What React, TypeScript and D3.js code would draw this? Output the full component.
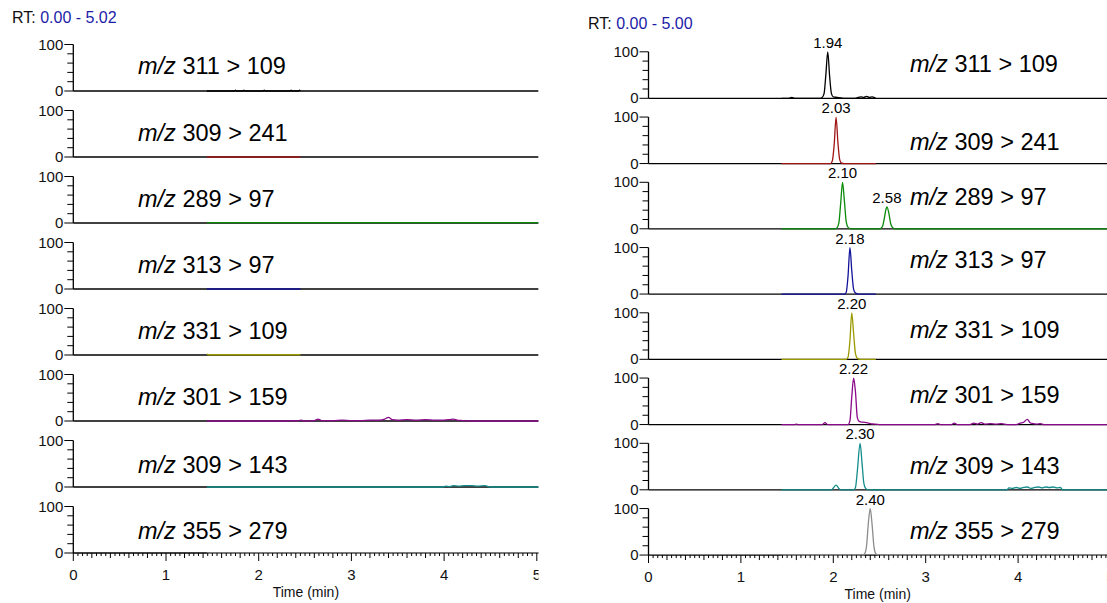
import React from "react";
import * as d3 from "d3";

type Pt = [number, number];

// ---------- DATA ----------
const transitions = ["311 > 109", "309 > 241", "289 > 97", "313 > 97", "331 > 109", "301 > 159", "309 > 143", "355 > 279"];
const traceColors = ["#000000", "#a01414", "#0a8a0a", "#12129a", "#9a9a00", "#8a0a8a", "#138c8c", "#8c8c8c"];
const xTickValues = [0, 1, 2, 3, 4, 5];
const leftRange = "0.00 - 5.02";
const rightRange = "0.00 - 5.00";

// Left panel traces (time, relative abundance)
const left311_109: Pt[] = [[1.44, 0], [1.74, 0], [1.75, 2], [1.76, 0], [1.83, 0], [1.84, 2], [1.85, 0], [2.05, 0], [2.06, 2], [2.07, 0], [2.34, 0], [2.35, 2], [2.36, 0], [2.43, 0], [2.44, 2], [2.45, 0]];
const left309_241: Pt[] = [[1.44, 0], [2.45, 0]];
const left289_97: Pt[] = [[1.44, 1], [5.02, 1]];
const left313_97: Pt[] = [[1.44, 0], [2.45, 0]];
const left331_109: Pt[] = [[1.44, 2], [1.46, 0.5], [2.45, 0.5]];
const left301_159: Pt[] = [[1.44, 0], [2.3, 0], [2.34, 1], [2.4, 0], [2.46, 2], [2.5, 0], [2.6, 1], [2.64, 4], [2.68, 1], [2.8, 1], [2.9, 2], [3.0, 1], [3.1, 1], [3.2, 2], [3.3, 2], [3.36, 4], [3.4, 8], [3.44, 3], [3.5, 2], [3.6, 3], [3.7, 2], [3.8, 3], [3.9, 2], [4.0, 2], [4.06, 3], [4.1, 4], [4.14, 2], [4.2, 1], [4.28, 0], [5.02, 0]];
const left309_143: Pt[] = [[1.44, 0], [3.98, 0], [4.02, 2], [4.06, 1], [4.1, 3], [4.16, 2], [4.22, 3], [4.3, 3], [4.36, 2], [4.44, 3], [4.5, 0], [5.02, 0]];
const left355_279: Pt[] = [[1.44, 0], [5.02, 0]];

// Right panel traces
const right311_109: Pt[] = [[1.44, 0], [1.52, 0], [1.55, 2], [1.58, 0], [1.86, 0], [1.88, 2], [1.9, 10], [1.92, 52], [1.94, 100], [1.96, 48], [1.98, 10], [2.0, 3], [2.04, 2], [2.08, 1], [2.12, 0], [2.24, 0], [2.27, 2], [2.3, 3], [2.33, 2], [2.36, 4], [2.39, 2], [2.42, 3], [2.45, 1], [2.46, 0]];
const right309_241: Pt[] = [[1.44, 0], [1.97, 0], [1.99, 6], [2.01, 42], [2.03, 100], [2.05, 45], [2.07, 8], [2.09, 1], [2.12, 0], [2.46, 0]];
const right289_97: Pt[] = [[1.44, 0], [2.02, 0], [2.04, 2], [2.06, 12], [2.08, 55], [2.1, 100], [2.12, 60], [2.14, 15], [2.16, 3], [2.19, 0], [2.5, 0], [2.53, 4], [2.55, 20], [2.57, 42], [2.58, 47], [2.6, 35], [2.62, 12], [2.64, 3], [2.67, 0], [5.02, 0]];
const right313_97: Pt[] = [[1.44, 0], [2.12, 0], [2.14, 4], [2.16, 40], [2.18, 100], [2.2, 50], [2.22, 10], [2.24, 2], [2.27, 0], [2.46, 0]];
const right331_109: Pt[] = [[1.44, 0], [2.14, 0], [2.16, 5], [2.18, 40], [2.2, 100], [2.22, 55], [2.24, 12], [2.26, 2], [2.29, 0], [2.46, 0]];
const right301_159: Pt[] = [[1.44, 0], [1.58, 0], [1.6, 1], [1.62, 0], [1.88, 0], [1.91, 4], [1.94, 0], [2.16, 0], [2.18, 8], [2.2, 60], [2.22, 100], [2.24, 70], [2.26, 15], [2.28, 7], [2.32, 5], [2.36, 4], [2.4, 2], [2.44, 1], [2.5, 0], [3.1, 0], [3.13, 2], [3.16, 0], [3.28, 0], [3.31, 3], [3.34, 0], [3.48, 0], [3.52, 3], [3.56, 1], [3.6, 4], [3.64, 1], [3.7, 2], [3.76, 1], [3.82, 2], [3.88, 0], [3.98, 0], [4.02, 3], [4.06, 5], [4.1, 11], [4.13, 4], [4.16, 2], [4.2, 1], [4.24, 2], [4.28, 0], [5.02, 0]];
const right309_143: Pt[] = [[1.44, 0], [1.98, 0], [2.0, 4], [2.03, 10], [2.06, 3], [2.08, 0], [2.22, 0], [2.24, 5], [2.26, 40], [2.29, 100], [2.31, 60], [2.33, 15], [2.35, 3], [2.38, 0], [3.88, 0], [3.9, 4], [3.94, 3], [3.98, 5], [4.02, 3], [4.06, 5], [4.1, 6], [4.14, 3], [4.18, 5], [4.22, 6], [4.26, 4], [4.3, 6], [4.34, 5], [4.38, 6], [4.42, 4], [4.46, 5], [4.48, 0], [5.02, 0]];
const right355_279: Pt[] = [[1.44, 0], [2.32, 0], [2.34, 3], [2.36, 20], [2.38, 70], [2.4, 100], [2.42, 65], [2.44, 18], [2.46, 3], [2.49, 0], [5.02, 0]];

const leftTraces = [left311_109, left309_241, left289_97, left313_97, left331_109, left301_159, left309_143, left355_279];
const rightTraces = [right311_109, right309_241, right289_97, right313_97, right331_109, right301_159, right309_143, right355_279];

// Peak annotations (right panel)
const peakRows = [0, 1, 2, 2, 3, 4, 5, 6, 7];
const peakTimes = [1.94, 2.03, 2.1, 2.58, 2.18, 2.2, 2.22, 2.29, 2.4];
const peakHeights = [100, 100, 100, 47, 100, 100, 100, 100, 100];
const peakLabels = ["1.94", "2.03", "2.10", "2.58", "2.18", "2.20", "2.22", "2.30", "2.40"];

// ---------- LAYOUT ----------
const FONT = "'Liberation Sans', Arial, Helvetica, sans-serif";
const W = 1107;
const H = 603;
const ROW_H = 46.5;

type PanelCfg = {
  id: string;
  xStart: number;
  pxPerMin: number;
  domainMax: number;
  clipRight: number;
  firstBaseline: number;
  rowStep: number;
  rtX: number;
  rtY: number;
  rtRange: string;
  labelX: number;
  labelOffsets: number[];
  traces: Pt[][];
  peaks: boolean;
};

const panels: PanelCfg[] = [
  {
    id: "L", xStart: 73.3, pxPerMin: 92.7, domainMax: 5.02, clipRight: 538.5,
    firstBaseline: 91, rowStep: 66, rtX: 12, rtY: 23, rtRange: leftRange,
    labelX: 138, labelOffsets: [17, 16, 16, 16, 16, 16, 14, 14], traces: leftTraces, peaks: false,
  },
  {
    id: "R", xStart: 648.5, pxPerMin: 92.4, domainMax: 5.0, clipRight: 1107,
    firstBaseline: 98.3, rowStep: 65.25, rtX: 588, rtY: 29, rtRange: rightRange,
    labelX: 910, labelOffsets: [26, 14, 24, 26, 21, 22, 16, 16], traces: rightTraces, peaks: true,
  },
];

function Panel({ cfg }: { cfg: PanelCfg }) {
  const x = d3.scaleLinear().domain([0, cfg.domainMax]).range([cfg.xStart, cfg.xStart + cfg.domainMax * cfg.pxPerMin]);
  const xEnd = x(cfg.domainMax);
  const minorX = d3.range(0, 101).map((i) => i * 0.05).filter((v) => v <= cfg.domainMax + 1e-9);
  const yTicks = [0, 20, 40, 60, 80, 100];
  const clipId = `clip-${cfg.id}`;
  const lastBase = cfg.firstBaseline + 7 * cfg.rowStep;

  return (
    <g>
      <defs>
        <clipPath id={clipId}>
          <rect x={0} y={0} width={cfg.clipRight} height={H} />
        </clipPath>
      </defs>
      <text x={cfg.rtX} y={cfg.rtY} fontSize={16} fontFamily={FONT} fill="#111">
        RT: <tspan fill="#1c1ca8">{cfg.rtRange}</tspan>
      </text>
      <g clipPath={`url(#${clipId})`}>
        {cfg.traces.map((tr, i) => {
          const base = cfg.firstBaseline + i * cfg.rowStep;
          const y = d3.scaleLinear().domain([0, 100]).range([base, base - ROW_H]);
          const line = d3.line<Pt>().x((d) => x(d[0])).y((d) => y(d[1])).curve(d3.curveMonotoneX);
          return (
            <g key={i}>
              <line x1={cfg.xStart} x2={xEnd} y1={base} y2={base} stroke="#000" strokeWidth={1.3} />
              <line x1={cfg.xStart} x2={cfg.xStart} y1={y(100)} y2={base} stroke="#000" strokeWidth={1.3} />
              {yTicks.map((t) => (
                <line key={t} x1={cfg.xStart - (t === 0 || t === 100 ? 9 : 6)} x2={cfg.xStart} y1={y(t)} y2={y(t)} stroke="#000" strokeWidth={1} />
              ))}
              <text x={cfg.xStart - 10} y={y(100) + 5} fontSize={15} fontFamily={FONT} textAnchor="end" fill="#111">100</text>
              <text x={cfg.xStart - 10} y={base + 5} fontSize={15} fontFamily={FONT} textAnchor="end" fill="#111">0</text>
              <path d={line(tr) || ""} fill="none" stroke={traceColors[i]} strokeWidth={1.3} strokeLinejoin="round" />
              <text x={cfg.labelX} y={base - cfg.labelOffsets[i]} fontSize={23.5} fontFamily={FONT} fill="#000">
                <tspan fontStyle="italic">m/z</tspan>
                {" " + transitions[i]}
              </text>
            </g>
          );
        })}
        {cfg.peaks &&
          peakRows.map((r, k) => {
            const base = cfg.firstBaseline + r * cfg.rowStep;
            const y = d3.scaleLinear().domain([0, 100]).range([base, base - ROW_H]);
            return (
              <text key={k} x={x(peakTimes[k])} y={y(peakHeights[k]) - 4} fontSize={15} fontFamily={FONT} textAnchor="middle" fill="#000">
                {peakLabels[k]}
              </text>
            );
          })}
        {minorX.map((v, k) => {
          const isMajor = Math.abs(v - Math.round(v)) < 1e-6;
          const isMid = !isMajor && Math.abs(v * 5 - Math.round(v * 5)) < 1e-6;
          const len = isMajor ? 8 : isMid ? 5 : 3;
          return <line key={k} x1={x(v)} x2={x(v)} y1={lastBase} y2={lastBase + len} stroke="#000" strokeWidth={1} />;
        })}
        {xTickValues.map((v) => (
          <text key={v} x={x(v)} y={lastBase + 27} fontSize={15} fontFamily={FONT} textAnchor="middle" fill="#111">
            {v}
          </text>
        ))}
      </g>
      <text x={(cfg.xStart + cfg.clipRight) / 2} y={lastBase + 44} fontSize={14} fontFamily={FONT} textAnchor="middle" fill="#111">
        Time (min)
      </text>
    </g>
  );
}

export default function App() {
  return (
    <svg width={W} height={H} style={{ position: "absolute", left: 0, top: 0, background: "#fff" }}>
      <rect x={0} y={0} width={W} height={H} fill="#fff" />
      {panels.map((p) => (
        <Panel key={p.id} cfg={p} />
      ))}
    </svg>
  );
}
